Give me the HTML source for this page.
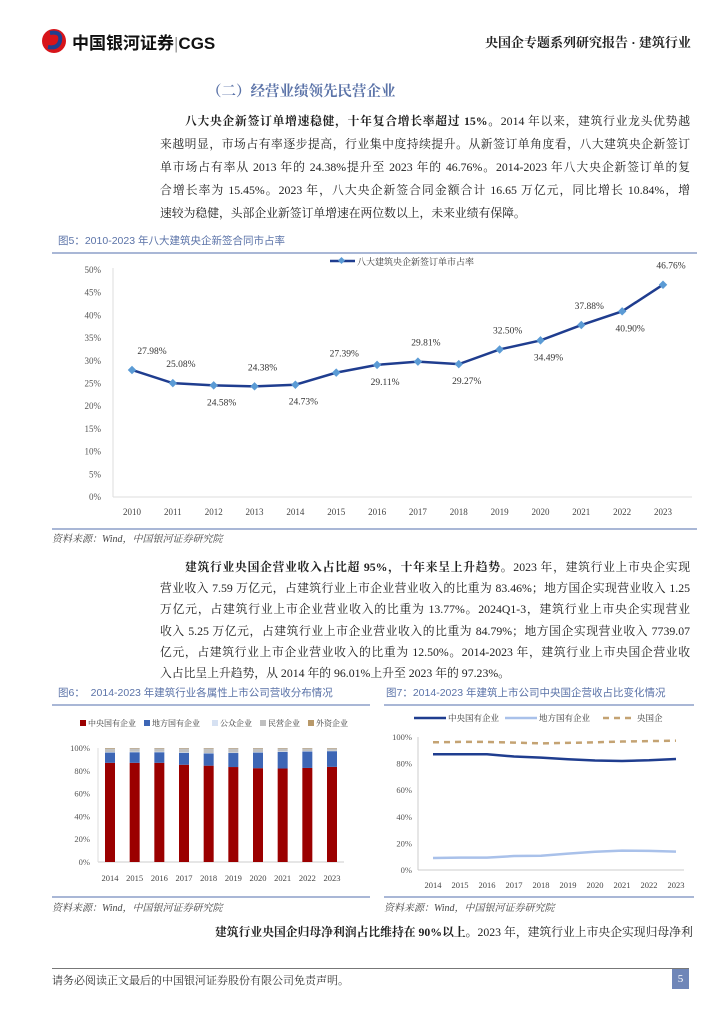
<!DOCTYPE html>
<html><head><meta charset="utf-8">
<style>
body{margin:0;background:#fff;}
#page{position:relative;width:724px;height:1024px;overflow:hidden;font-family:"Liberation Serif","Noto Serif CJK SC",serif;color:#222;}
.abs{position:absolute;}
.p{position:absolute;left:160px;width:530px;font-size:11.8px;line-height:23px;}
.p span.l{display:block;height:23px;white-space:nowrap;overflow:visible;text-align:justify;text-align-last:justify;}
#p2{line-height:21.2px;}
#p2 span.l{height:21.2px;}
.p .last{text-align-last:left !important;}
.ftitle{position:absolute;font-size:10.5px;color:#5b73a8;font-family:"Liberation Sans","Noto Sans CJK SC",sans-serif;white-space:nowrap;}
.hl{position:absolute;height:2px;background:#a9b7d6;}
.src{position:absolute;font-size:10px;font-style:italic;color:#444;}
svg text{font-family:"Liberation Serif","Noto Serif CJK SC",serif;}
</style></head>
<body><div id="page">

<div class="abs" style="left:40px;top:27px;height:28px;">
 <svg width="30" height="28" style="position:absolute;left:0;top:0"><circle cx="14" cy="14" r="12" fill="#d7141a"/><path d="M10 6 q12 -2 10 8 q-2 8 -12 6" fill="none" stroke="#1f3f8f" stroke-width="4"/></svg>
 <span style="position:absolute;left:32px;top:2px;font:bold 17px 'Liberation Sans','Noto Sans CJK SC',sans-serif;white-space:nowrap;color:#111;">中国银河证券<span style="color:#999;font-weight:normal">|</span>CGS</span>
</div>
<div class="abs" style="left:485px;top:32px;font-size:13px;font-weight:bold;white-space:nowrap;">央国企专题系列研究报告 · 建筑行业</div>

<div class="abs" style="left:207px;top:80px;font-size:14.5px;font-weight:bold;color:#5b73a8;">（二）经营业绩领先民营企业</div>

<div class="p" style="top:110px;">
<span class="l" style="padding-left:25px"><b>八大央企新签订单增速稳健，十年复合增长率超过 15%。</b>2014 年以来，建筑行业龙头优势越</span>
<span class="l">来越明显，市场占有率逐步提高，行业集中度持续提升。从新签订单角度看，八大建筑央企新签订</span>
<span class="l">单市场占有率从 2013 年的 24.38%提升至 2023 年的 46.76%。2014-2023 年八大央企新签订单的复</span>
<span class="l">合增长率为 15.45%。2023 年，八大央企新签合同金额合计 16.65 万亿元，同比增长 10.84%，增</span>
<span class="l last">速较为稳健，头部企业新签订单增速在两位数以上，未来业绩有保障。</span>
</div>

<div class="ftitle" style="left:58px;top:233px;">图5：2010-2023 年八大建筑央企新签合同市占率</div>
<div class="hl" style="left:52px;top:252px;width:645px;"></div>
<svg id="c5" class="abs" style="left:0;top:255px" width="724" height="275"></svg>
<div class="hl" style="left:52px;top:528px;width:645px;"></div>
<div class="src" style="left:52px;top:530px;">资料来源：Wind，中国银河证券研究院</div>

<div class="p" id="p2" style="top:557px;">
<span class="l" style="padding-left:25px"><b>建筑行业央国企营业收入占比超 95%，十年来呈上升趋势。</b>2023 年，建筑行业上市央企实现</span>
<span class="l">营业收入 7.59 万亿元，占建筑行业上市企业营业收入的比重为 83.46%；地方国企实现营业收入 1.25</span>
<span class="l">万亿元，占建筑行业上市企业营业收入的比重为 13.77%。2024Q1-3，建筑行业上市央企实现营业</span>
<span class="l">收入 5.25 万亿元，占建筑行业上市企业营业收入的比重为 84.79%；地方国企实现营业收入 7739.07</span>
<span class="l">亿元，占建筑行业上市企业营业收入的比重为 12.50%。2014-2023 年，建筑行业上市央国企营业收</span>
<span class="l last">入占比呈上升趋势，从 2014 年的 96.01%上升至 2023 年的 97.23%。</span>
</div>

<div class="ftitle" style="left:58px;top:685px;">图6：&nbsp; 2014-2023 年建筑行业各属性上市公司营收分布情况</div>
<div class="hl" style="left:52px;top:704px;width:318px;"></div>
<svg id="c6" class="abs" style="left:52px;top:706px" width="318" height="190"></svg>
<div class="hl" style="left:52px;top:896px;width:318px;"></div>
<div class="src" style="left:52px;top:899px;">资料来源：Wind，中国银河证券研究院</div>

<div class="ftitle" style="left:386px;top:685px;">图7：2014-2023 年建筑上市公司中央国企营收占比变化情况</div>
<div class="hl" style="left:384px;top:704px;width:310px;"></div>
<svg id="c7" class="abs" style="left:384px;top:706px" width="310" height="190"></svg>
<div class="hl" style="left:384px;top:896px;width:310px;"></div>
<div class="src" style="left:384px;top:899px;">资料来源：Wind，中国银河证券研究院</div>

<div class="abs" style="left:215px;top:923px;font-size:11.8px;white-space:nowrap;"><b>建筑行业央国企归母净利润占比维持在 90%以上。</b>2023 年，建筑行业上市央企实现归母净利</div>

<div class="abs" style="left:52px;top:968px;width:637px;height:1px;background:#777;"></div>
<div class="abs" style="left:52px;top:972px;font-size:11px;color:#333;">请务必阅读正文最后的中国银河证券股份有限公司免责声明。</div>
<div class="abs" style="left:672px;top:969px;width:17px;height:20px;background:#6f86b8;color:#fff;font-size:11px;text-align:center;line-height:20px;">5</div>

<script>
const NS='http://www.w3.org/2000/svg';
function mk(p,t,a,txt){const e=document.createElementNS(NS,t);for(const k in a)e.setAttribute(k,a[k]);if(txt!==undefined)e.textContent=txt;p.appendChild(e);return e;}

// Figure 5 data
const years5=['2010','2011','2012','2013','2014','2015','2016','2017','2018','2019','2020','2021','2022','2023'];
const share5=[27.98,25.08,24.58,24.38,24.73,27.39,29.11,29.81,29.27,32.50,34.49,37.88,40.90,46.76];
const labels5=['27.98%','25.08%','24.58%','24.38%','24.73%','27.39%','29.11%','29.81%','29.27%','32.50%','34.49%','37.88%','40.90%','46.76%'];
const ticks5=[0,5,10,15,20,25,30,35,40,45,50];
const labelAbove5=[true,true,false,true,false,true,false,true,false,true,false,true,false,true];

// Figure 6 data
const years6=['2014','2015','2016','2017','2018','2019','2020','2021','2022','2023'];
const central6=[87.0,87.0,87.0,85.3,84.5,83.3,82.3,82.0,82.5,83.46];
const local6=[9.0,9.3,9.3,10.5,10.7,12.3,13.7,14.6,14.4,13.77];
const public6=[0.4,0.4,0.4,0.4,0.4,0.4,0.4,0.4,0.4,0.4];
const private6=[3.1,2.9,2.9,3.4,4.0,3.6,3.2,2.6,2.3,2.0];
const foreign6=[0.5,0.4,0.4,0.4,0.4,0.4,0.4,0.4,0.4,0.37];
const ticks6=[0,20,40,60,80,100];

// Figure 7 data
const years7=['2014','2015','2016','2017','2018','2019','2020','2021','2022','2023'];
const central7=[87.0,87.0,87.0,85.3,84.5,83.3,82.3,82.0,82.5,83.46];
const local7=[9.0,9.3,9.3,10.5,10.7,12.3,13.7,14.6,14.4,13.77];
const soe7=[96.01,96.3,96.3,95.8,95.2,95.6,96.0,96.6,96.9,97.23];
const ticks7=[0,20,40,60,80,100];

// ---- Figure 5 ----
(function(){
 const s=document.getElementById('c5');
 const x0=132,dx=(663-132)/13,yTop=15,yBot=242;
 const X=i=>x0+i*dx, Y=v=>yBot-(v/50)*(yBot-yTop);
 mk(s,'line',{x1:113,y1:yTop-2,x2:113,y2:yBot,stroke:'#ddd'});
 mk(s,'line',{x1:113,y1:yBot,x2:692,y2:yBot,stroke:'#ddd'});
 ticks5.forEach(t=>{const e=mk(s,'text',{x:101,y:Y(t)+3,'text-anchor':'end','font-size':'9',fill:'#555'},t+'%');
  
  });
 years5.forEach((y,i)=>{const e=mk(s,'text',{x:X(i),y:yBot+18,'text-anchor':'middle','font-size':'9',fill:'#444'},y);
  
  });
 const lg=mk(s,'g',{});
 
 
 mk(lg,'line',{x1:330,y1:6,x2:355,y2:6,stroke:'#1f3d8f','stroke-width':2.5});
 mk(lg,'rect',{x:339,y:3,width:5,height:5,fill:'#5b9bd5',transform:'rotate(45 341.5 5.5)'});
 mk(lg,'text',{x:357,y:10,'font-size':'9',fill:'#333'},'八大建筑央企新签订单市占率');
 const pts=share5.map((v,i)=>X(i)+','+Y(v)).join(' ');
 const pl=mk(s,'polyline',{points:pts,fill:'none',stroke:'#1f3d8f','stroke-width':2.5});
 
 
 share5.forEach((v,i)=>{
  const m=mk(s,'rect',{x:X(i)-3,y:Y(v)-3,width:6,height:6,fill:'#5b9bd5',transform:`rotate(45 ${X(i)} ${Y(v)})`});
  
  
  const ly=labelAbove5[i]?Y(v)-16:Y(v)+20;
  const t=mk(s,'text',{x:X(i)+(i==0?20:8),y:ly,'text-anchor':'middle','font-size':'9.5',fill:'#333'},labels5[i]);
  
  
 });
})();

// ---- Figure 6 ----
(function(){
 const s=document.getElementById('c6');
 const x0=58,dx=(280-58)/9,yTop=42,yBot=156,bw=10;
 const X=i=>x0+i*dx, H=v=>v/100*(yBot-yTop);
 const series=[[central6,'#9b0000','中央国有企业'],[local6,'#3d66b5','地方国有企业'],[public6,'#d6e1f2','公众企业'],[private6,'#c0c0c0','民营企业'],[foreign6,'#b8996a','外资企业']];
 const lx=[28,92,160,208,256];
 series.forEach((sr,k)=>{const g=mk(s,'g',{});
  
  
  mk(g,'rect',{x:lx[k],y:14,width:6,height:6,fill:sr[1]});
  mk(g,'text',{x:lx[k]+8,y:20,'font-size':'8','fill':'#333'},sr[2]);});
 mk(s,'line',{x1:46,y1:yBot,x2:292,y2:yBot,stroke:'#ccc'});
 mk(s,'line',{x1:46,y1:yTop,x2:46,y2:yBot,stroke:'#ddd'});
 ticks6.forEach(t=>{const e=mk(s,'text',{x:38,y:yBot-H(t)+3,'text-anchor':'end','font-size':'8.5',fill:'#555'},t+'%');
  
  });
 years6.forEach((y,i)=>{
  let base=yBot;
  series.forEach(sr=>{const h=H(sr[0][i]);const r=mk(s,'rect',{x:X(i)-bw/2,y:base-h,width:bw,height:h,fill:sr[1]});
   
   
   base-=h;});
  const t=mk(s,'text',{x:X(i),y:yBot+19,'text-anchor':'middle','font-size':'8.5',fill:'#444'},y);
  
  
 });
})();

// ---- Figure 7 ----
(function(){
 const s=document.getElementById('c7');
 const x0=49,dx=(292-49)/9,yTop=31,yBot=164;
 const X=i=>x0+i*dx, Y=v=>yBot-v/100*(yBot-yTop);
 const lgs=[[6,'#1f3d8f','中央国有企业',''],[97,'#a9c1ea','地方国有企业',''],[195,'#c4a373','央国企','6,5']];
 lgs.forEach(l=>{const g=mk(s,'g',{});
  
  
  mk(g,'line',{x1:l[0]+24,y1:12,x2:l[0]+56,y2:12,stroke:l[1],'stroke-width':2.5,'stroke-dasharray':l[3]});
  mk(g,'text',{x:l[0]+58,y:15,'font-size':'8.5',fill:'#333'},l[2]);});
 mk(s,'line',{x1:34,y1:yTop,x2:34,y2:yBot,stroke:'#ccc'});
 mk(s,'line',{x1:34,y1:yBot,x2:300,y2:yBot,stroke:'#ccc'});
 ticks7.forEach(t=>{const e=mk(s,'text',{x:28,y:Y(t)+3,'text-anchor':'end','font-size':'8.5',fill:'#555'},t+'%');
  
  });
 years7.forEach((y,i)=>{const t=mk(s,'text',{x:X(i),y:yBot+18,'text-anchor':'middle','font-size':'8.5',fill:'#444'},y);
  
  });
 const lines=[[central7,'#1f3d8f','','central-soe-line'],[local7,'#a9c1ea','','local-soe-line'],[soe7,'#c4a373','6,5','all-soe-line']];
 lines.forEach(l=>{const p=mk(s,'polyline',{points:l[0].map((v,i)=>X(i)+','+Y(v)).join(' '),fill:'none',stroke:l[1],'stroke-width':2.5,'stroke-dasharray':l[2]});
  
  });
})();
</script>
</div></body></html>
